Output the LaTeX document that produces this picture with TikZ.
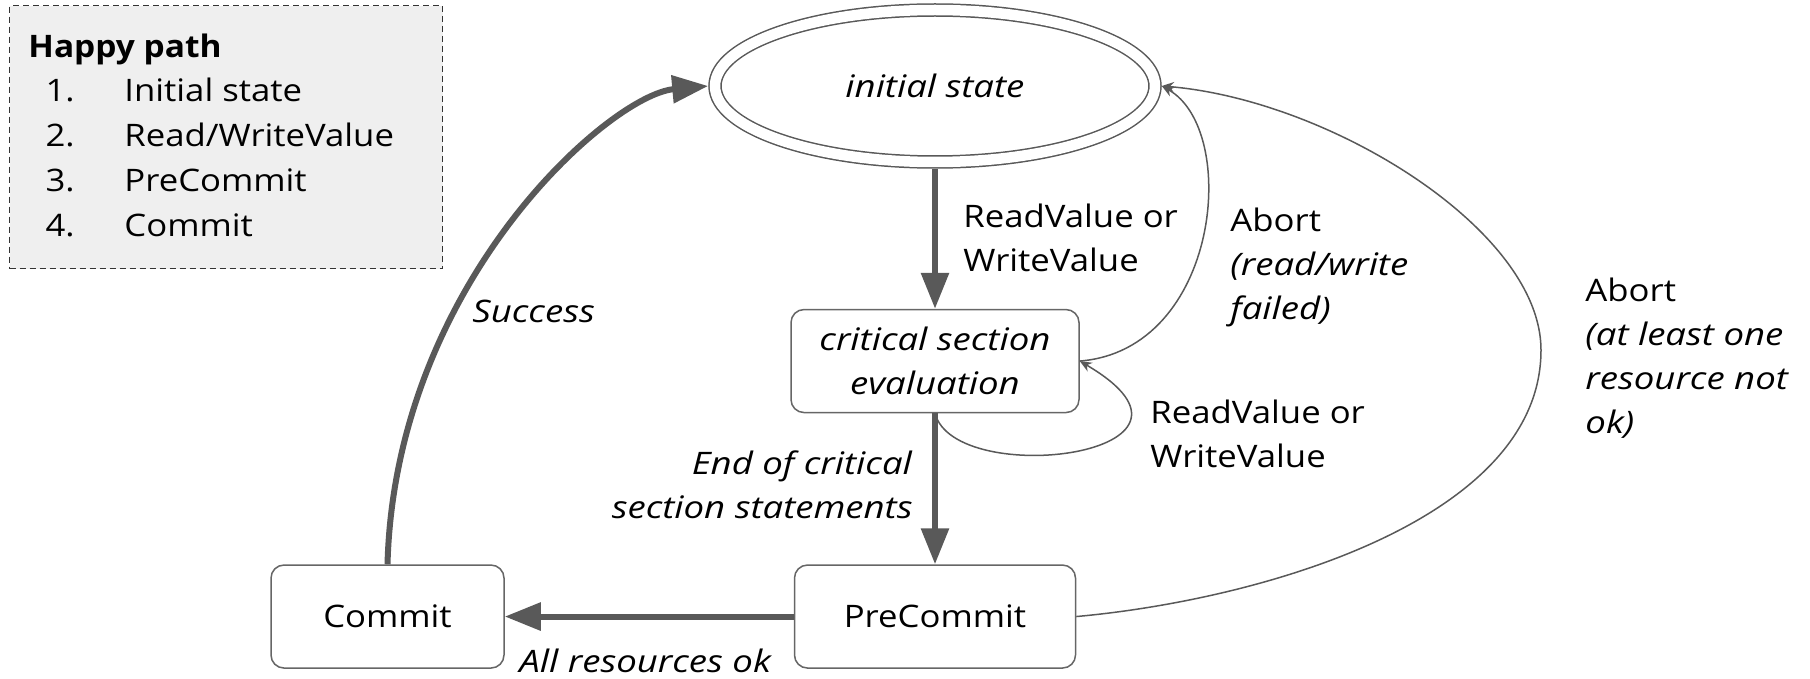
\documentclass[tikz,border=0pt]{standalone}
\usepackage{fontspec}
\setmainfont{Open Sans}[FakeStretch=1.12, ItalicFeatures={FakeStretch=1.18}, BoldFeatures={FakeStretch=1.08}]
\usetikzlibrary{positioning,shapes.geometric,arrows.meta}
\definecolor{edgegray}{RGB}{89,89,89}
\definecolor{boxgray}{RGB}{102,102,102}
\definecolor{notefill}{RGB}{239,239,239}

\begin{document}
\begin{tikzpicture}[x=0.5pt, y=-0.5pt, font=\fontsize{15.5}{22}\selectfont]
        \tikzstyle{state} = [draw=boxgray, line width=0.75pt, rectangle, rounded corners=6.5pt, minimum height=51.5pt, inner sep=0pt, align=center]
        \tikzstyle{start} = [draw=edgegray, ellipse, line width=0.75pt, double=white, double distance=5.25pt, minimum width=220pt, minimum height=76pt, inner sep=0pt, outer sep=3.4pt]
        \tikzstyle{main} = [-{Triangle[length=18pt,width=13.5pt]}, draw=edgegray, line width=3pt]
        \tikzstyle{side} = [-{Stealth[length=6pt,width=5pt]}, draw=edgegray, line width=0.75pt]
        \tikzstyle{lbl} = [anchor=base west, inner sep=0pt, align=left]
        \useasboundingbox (0,0) rectangle (1810,679);

        % legend
        \node (note) [draw=black!80, dashed, dash pattern=on 3pt off 2pt, line width=0.6pt, fill=notefill, anchor=north west, minimum width=216.5pt, minimum height=131.5pt, inner sep=0pt] at (9,5) {};
        \node (notehead) [lbl] at (28,58) {\textbf{Happy path}};
        \foreach \n/\t in {1/Initial state, 2/{Read/WriteValue}, 3/PreCommit, 4/Commit} {
            \node (num\n) [anchor=base east, inner sep=0pt] at (75,{57+45*\n}) {\n.};
            \node (item\n) [lbl] at (124,{57+45*\n}) {\t};
        }

        % states
        \node (init) [start] at (935,86) {\textit{initial state}};
        \node (crit) [state, minimum width=144pt, below=70pt of init] {\textit{critical section}\\\textit{evaluation}};
        \node (pre) [state, minimum width=140.5pt, below=75.5pt of crit] {PreCommit};
        \node (commit) [state, minimum width=116.5pt, left=144.5pt of pre] {Commit};

        % transitions
        \draw[main] (init) -- (crit);
        \draw[main] (crit) -- (pre);
        \draw[main] (pre) -- (commit);
        \draw[main] (commit.north) .. controls (395,283) and (610,95) .. (init.west);
        \draw[side] (crit.east) .. controls (1220,350) and (1240,130) .. (init.east);
        \draw[side] (crit.south) .. controls (955,490) and (1240,455) .. (crit.east);
        \draw[side] (pre.east) .. controls (1260,600) and (1541,520) .. (1541,350) .. controls (1541,230) and (1330,100) .. (init.east);

        % labels (anchored at the baseline of the last line)
        \node (rwlbl) [lbl] at (963,272) {ReadValue or\\WriteValue};
        \node (rwfail) [lbl] at (1230,320) {Abort\\\textit{(read/write}\\\textit{failed)}};
        \node (looplbl) [lbl] at (1150,467) {ReadValue or\\WriteValue};
        \node (notok) [lbl] at (1585,433) {Abort\\\textit{(at least one}\\\textit{resource not}\\\textit{ok)}};
        \node (endlbl) [anchor=base east, inner sep=0pt, align=right] at (913,518) {\textit{End of critical}\\\textit{section statements}};
        \node (success) [lbl] at (472,322) {\textit{Success}};
        \node (allok) [lbl] at (519,672) {\textit{All resources ok}};
    \end{tikzpicture}
\end{document}
